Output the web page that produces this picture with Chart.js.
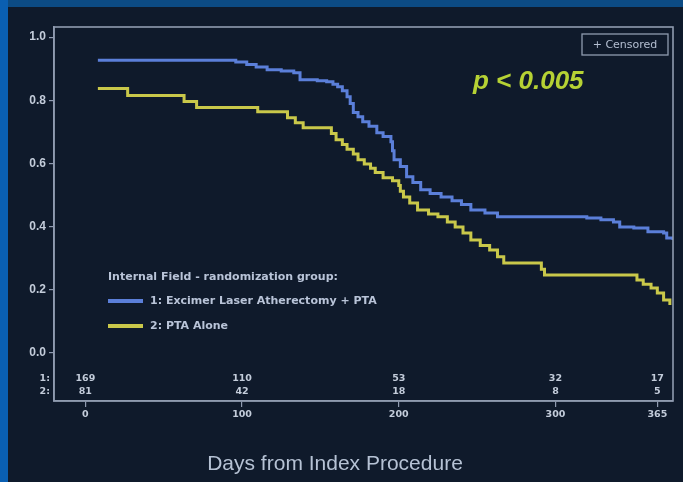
<!DOCTYPE html>
<html>
<head>
<meta charset="utf-8">
<script src="https://cdn.jsdelivr.net/npm/chart.js@4/dist/chart.umd.min.js"></script>
<style>
  html, body { margin: 0; padding: 0; background: #0f1a2b; }
  #wrap { position: relative; width: 683px; height: 482px; }
  canvas { display: block; }
</style>
</head>
<body>
<div id="wrap"><canvas id="c" width="683" height="482"></canvas></div>
<script>
// ---------- data ----------
const group1Label = "1: Excimer Laser Atherectomy + PTA";
const group2Label = "2: PTA Alone";
const legendTitle = "Internal Field - randomization group:";
const xTitle = "Days from Index Procedure";
const pText = "p < 0.005";
const censoredText = "+ Censored";

// Kaplan-Meier step points (day, survival)
const group1Days = [8, 96, 103, 109, 116, 125, 133, 137, 148, 154, 158, 161, 164, 167, 169, 171, 174, 177, 181, 186, 190, 195, 196, 197, 201, 205, 209, 214, 220, 227, 234, 240, 246, 255, 263, 320, 329, 337, 341, 350, 359, 369, 371, 375];
const group1Surv = [0.927, 0.921, 0.913, 0.905, 0.897, 0.893, 0.887, 0.865, 0.862, 0.859, 0.851, 0.843, 0.830, 0.811, 0.790, 0.761, 0.748, 0.732, 0.718, 0.697, 0.685, 0.669, 0.640, 0.612, 0.590, 0.558, 0.540, 0.517, 0.505, 0.494, 0.482, 0.470, 0.453, 0.443, 0.431, 0.427, 0.422, 0.415, 0.399, 0.396, 0.384, 0.380, 0.364, 0.358];

const group2Days = [8, 27, 63, 71, 110, 129, 134, 139, 157, 160, 164, 167, 171, 174, 178, 182, 185, 190, 196, 200, 201, 203, 207, 212, 219, 225, 231, 236, 241, 246, 252, 258, 263, 267, 291, 293, 352, 356, 361, 365, 369, 373];
const group2Surv = [0.837, 0.815, 0.796, 0.777, 0.764, 0.745, 0.729, 0.713, 0.695, 0.675, 0.660, 0.645, 0.630, 0.612, 0.598, 0.585, 0.571, 0.555, 0.545, 0.530, 0.512, 0.494, 0.475, 0.453, 0.440, 0.431, 0.415, 0.399, 0.380, 0.358, 0.340, 0.326, 0.305, 0.285, 0.265, 0.247, 0.231, 0.218, 0.206, 0.190, 0.168, 0.152];

const xTickValues = [0, 100, 200, 300, 365];
const yTickValues = [0, 0.2, 0.4, 0.6, 0.8, 1.0];

const riskDays   = [0, 100, 200, 300, 365];
const riskGroup1 = [169, 110, 53, 32, 17];
const riskGroup2 = [81, 42, 18, 8, 5];
const riskRowLabels = ["1:", "2:"];

// ---------- styles ----------
const BLUE = "#5b7fd9";
const YELLOW = "#c9c84a";
const FRAME = "#8f9bb0";
const TEXT = "#c3ccda";
const FONT = "'Liberation Sans', Arial, sans-serif";
const WIDE = "'DejaVu Sans', sans-serif";

function pts(days, vals) { return days.map((d, i) => ({ x: d, y: vals[i] })); }

const decorations = {
  id: 'decorations',
  beforeDraw(chart) {
    const ctx = chart.ctx;
    ctx.save();
    ctx.fillStyle = "#0f1a2b";
    ctx.fillRect(0, 0, chart.width, chart.height);
    ctx.fillStyle = "#0c4b84";
    ctx.fillRect(0, 0, chart.width, 7);
    ctx.fillStyle = "#0a5fb2";
    ctx.fillRect(0, 0, 8, chart.height);
    ctx.restore();
  },
  afterDraw(chart) {
    const ctx = chart.ctx;
    const a = chart.chartArea;
    const xs = chart.scales.x;
    ctx.save();
    // frame
    ctx.strokeStyle = FRAME;
    ctx.lineWidth = 1.6;
    ctx.strokeRect(a.left, a.top, a.right - a.left, a.bottom - a.top);

    // number at risk
    ctx.fillStyle = TEXT;
    ctx.font = "bold 9.5px " + WIDE;
    ctx.textAlign = "center";
    ctx.textBaseline = "middle";
    const rows = [riskGroup1, riskGroup2];
    const rowY = [379, 392];
    rows.forEach((row, r) => {
      row.forEach((v, i) => {
        ctx.fillText(String(v), xs.getPixelForValue(riskDays[i]), rowY[r]);
      });
      ctx.textAlign = "right";
      ctx.fillText(riskRowLabels[r], a.left - 4, rowY[r]);
      ctx.textAlign = "center";
    });

    // legend
    ctx.textAlign = "left";
    ctx.font = "bold 11px " + WIDE;
    ctx.fillStyle = "#b9c4d8";
    const lx = 108;
    ctx.fillText(legendTitle, lx, 277);
    const ds = chart.data.datasets;
    const ly = [301, 326];
    ds.forEach((d, i) => {
      ctx.strokeStyle = d.borderColor;
      ctx.lineWidth = 4;
      ctx.beginPath();
      ctx.moveTo(lx, ly[i]);
      ctx.lineTo(lx + 35, ly[i]);
      ctx.stroke();
      ctx.fillStyle = "#b9c4d8";
      ctx.fillText(d.label, lx + 42, ly[i]);
    });

    // p-value
    ctx.font = "italic bold 26px " + FONT;
    ctx.fillStyle = "#b6d234";
    ctx.fillText(pText, 473, 82);

    // censored box
    ctx.strokeStyle = FRAME;
    ctx.lineWidth = 1.3;
    ctx.strokeRect(582, 34, 86, 21);
    ctx.font = "11px " + WIDE;
    ctx.fillStyle = "#b4bfd2";
    ctx.textAlign = "center";
    ctx.fillText(censoredText, 625, 45);

    // x title
    ctx.font = "21px " + FONT;
    ctx.fillStyle = "#b6c2d4";
    ctx.fillText(xTitle, 335, 464);
    ctx.restore();
  }
};

new Chart(document.getElementById('c'), {
  type: 'line',
  data: {
    datasets: [
      { label: group1Label, data: pts(group1Days, group1Surv), borderColor: BLUE, borderWidth: 3, stepped: true, pointRadius: 0, fill: false },
      { label: group2Label, data: pts(group2Days, group2Surv), borderColor: YELLOW, borderWidth: 3, stepped: true, pointRadius: 0, fill: false }
    ]
  },
  options: {
    responsive: false,
    devicePixelRatio: 1,
    animation: false,
    layout: { padding: { left: 0, right: 10, top: 27, bottom: 0 } },
    plugins: { legend: { display: false }, tooltip: { enabled: false } },
    scales: {
      x: {
        type: 'linear',
        min: -20, max: 375,
        afterFit(s) { s.height = 81; },
        afterBuildTicks(s) { s.ticks = xTickValues.map(v => ({ value: v })); },
        grid: { drawOnChartArea: false, drawTicks: true, tickLength: 6, color: FRAME, lineWidth: 1.2 },
        border: { display: true, color: FRAME, width: 1.6 },
        ticks: { color: TEXT, font: { family: WIDE, size: 9.5, weight: 'bold' }, padding: 2, maxRotation: 0, autoSkip: false }
      },
      y: {
        min: -0.152, max: 1.032,
        afterFit(s) { s.width = 54; },
        afterBuildTicks(s) { s.ticks = yTickValues.map(v => ({ value: v })); },
        grid: { drawOnChartArea: false, drawTicks: true, tickLength: 5, color: FRAME, lineWidth: 1.2 },
        border: { display: true, color: FRAME, width: 1.6 },
        ticks: { color: TEXT, font: { family: FONT, size: 12, weight: 'bold' }, padding: 3, callback: v => Number(v).toFixed(1) }
      }
    }
  },
  plugins: [decorations]
});
</script>
</body>
</html>
